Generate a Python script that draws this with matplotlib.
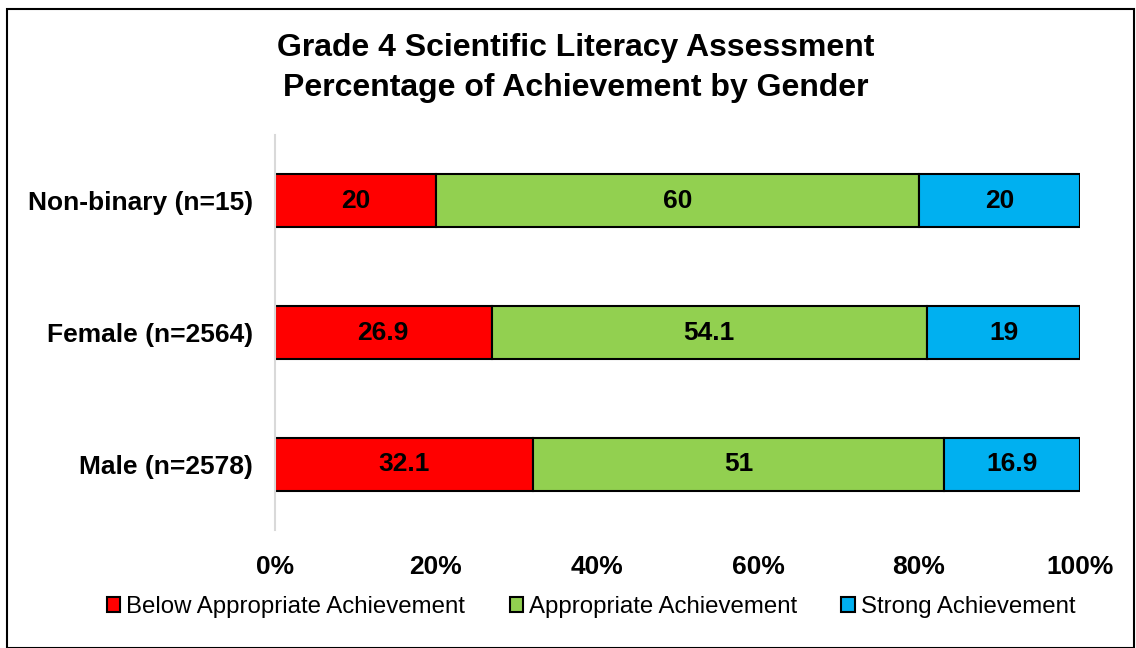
import matplotlib
matplotlib.use("Agg")
import matplotlib.pyplot as plt
from matplotlib.patches import Rectangle
import numpy as np

plt.rcParams['font.family'] = ['Liberation Sans', 'DejaVu Sans']

categories = ["Male (n=2578)", "Female (n=2564)", "Non-binary (n=15)"]
series_names = ["Below Appropriate Achievement", "Appropriate Achievement", "Strong Achievement"]
below = [32.1, 26.9, 20]
appropriate = [51, 54.1, 60]
strong = [16.9, 19, 20]
colors = ["#FF0000", "#92D050", "#00B0F0"]
xtick_vals = [0, 20, 40, 60, 80, 100]
xtick_labels = ["0%", "20%", "40%", "60%", "80%", "100%"]

fig = plt.figure(figsize=(11.36, 6.48), dpi=100)
ax = fig.add_axes([275/1136, 1-530/648, (1080-275)/1136, (530-135)/648])

y = np.arange(len(categories))
left = np.zeros(len(categories))
for vals, name, col in zip([below, appropriate, strong], series_names, colors):
    vals = np.array(vals, dtype=float)
    bars = ax.barh(y, vals, left=left, height=0.40, color=col, edgecolor="black",
                   linewidth=1.5, label=name)
    for b, v in zip(bars, vals):
        ax.text(b.get_x() + b.get_width()/2, b.get_y() + b.get_height()/2,
                f"{v:g}", ha="center", va="center", fontsize=19, fontweight="bold")
    left += vals

ax.set_xlim(0, 100)
ax.set_ylim(-0.5, 2.5)
ax.set_yticks(y)
ax.set_yticklabels(categories, fontsize=19, fontweight="bold")
ax.set_xticks(xtick_vals)
ax.set_xticklabels(xtick_labels, fontsize=19, fontweight="bold")
ax.tick_params(axis="both", length=0)
ax.tick_params(axis="x", pad=18)
ax.tick_params(axis="y", pad=16)
for s in ["top", "right", "bottom"]:
    ax.spines[s].set_visible(False)
ax.spines["left"].set_color("#D9D9D9")
ax.spines["left"].set_linewidth(1.5)

fig.text(576/1136, 1-68/648, "Grade 4 Scientific Literacy Assessment\nPercentage of Achievement by Gender",
         ha="center", va="center", fontsize=23, fontweight="bold", linespacing=1.4)

leg = fig.legend(loc="center", bbox_to_anchor=(591/1136, 1-607/648), ncol=3, frameon=False,
                 fontsize=17.3, handlelength=0.55, handleheight=0.55, handletextpad=0.25,
                 columnspacing=1.85)

fig.patches.append(Rectangle((7/1136, 0), 1127/1136, 1-9/648, transform=fig.transFigure,
                             fill=False, edgecolor="black", linewidth=1.5))

fig.savefig("out.png", dpi=100)
